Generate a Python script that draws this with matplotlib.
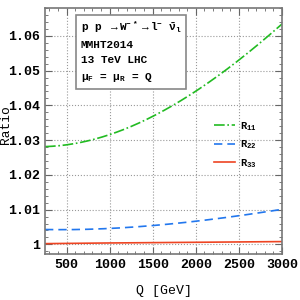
import matplotlib
matplotlib.use("Agg")
import matplotlib.pyplot as plt
import numpy as np
from matplotlib.ticker import MultipleLocator

# values
q = [250, 500, 1000, 1500, 2000, 2500, 3000]
r11 = [1.0285, 1.0281, 1.0316, 1.0371, 1.0443, 1.0526, 1.0636]
r22 = [1.0043, 1.0042, 1.0046, 1.0054, 1.0067, 1.0082, 1.0101]
r33 = [1.0002, 1.0003, 1.0004, 1.0005, 1.0006, 1.0007, 1.0008]

plt.rcParams['font.family'] = 'Liberation Mono'
plt.rcParams['font.weight'] = 'bold'
plt.rcParams['mathtext.default'] = 'regular'

fig = plt.figure(figsize=(3, 3), dpi=100)
ax = fig.add_axes([0.15, 0.153, 0.79, 0.82])

# smooth the read points a bit for drawing
qq = np.linspace(250, 3000, 200)
def smooth(y):
    c = np.polyfit(q, y, 3)
    return np.polyval(c, qq)

ax.plot(qq, smooth(r11), '-.', c='#22bb22', lw=1.2, label='R$_{11}$')
ax.plot(qq, smooth(r22), '--', c='#2277ee', lw=1.2, dashes=(5, 3), label='R$_{22}$')
ax.plot(qq, smooth(r33), '-', c='#ee4422', lw=1.2, label='R$_{33}$')

ax.set_xlim(250, 3000)
ax.set_ylim(0.9972, 1.068)
ax.set_xticks([500, 1000, 1500, 2000, 2500, 3000])
ax.set_yticks([1, 1.01, 1.02, 1.03, 1.04, 1.05, 1.06])
ax.set_yticklabels(['1', '1.01', '1.02', '1.03', '1.04', '1.05', '1.06'])
ax.xaxis.set_minor_locator(MultipleLocator(100))
ax.yaxis.set_minor_locator(MultipleLocator(0.002))
ax.tick_params(which='both', direction='in', top=True, right=True, labelsize=9.5,
               colors='#666666', labelcolor='black')
ax.tick_params(which='major', length=5)
ax.tick_params(which='minor', length=2.5)
for s in ax.spines.values():
    s.set_color('#777777')
    s.set_linewidth(1.2)
ax.grid(True, which='major', ls=':', c='#999999', lw=0.8)

ax.set_xlabel('Q [GeV]', fontsize=9.5, va='center')
ax.xaxis.set_label_coords(0.5, -0.15)
ax.set_ylabel('Ratio', fontsize=9.3, va='center')
ax.yaxis.set_label_coords(-0.165, 0.528)

ax.text(0.15, 0.955,
        'p p $\\rightarrow$W$^{-*}$$\\rightarrow$l$^{-}$ $\\bar{\\nu}_l$\n'
        'MMHT2014\n13 TeV LHC\n$\\mu_F$ = $\\mu_R$ = Q',
        transform=ax.transAxes, fontsize=8, va='top', ha='left', linespacing=1.65,
        bbox=dict(boxstyle='square,pad=0.4', fc='white', ec='#888888', lw=1.2))

leg = ax.legend(loc='upper left', bbox_to_anchor=(0.712, 0.545), frameon=False,
                borderpad=0, borderaxespad=0,
                fontsize=7.5, handlelength=2.0, handletextpad=0.5, labelspacing=0.55)

fig.savefig('out.png', dpi=100)
